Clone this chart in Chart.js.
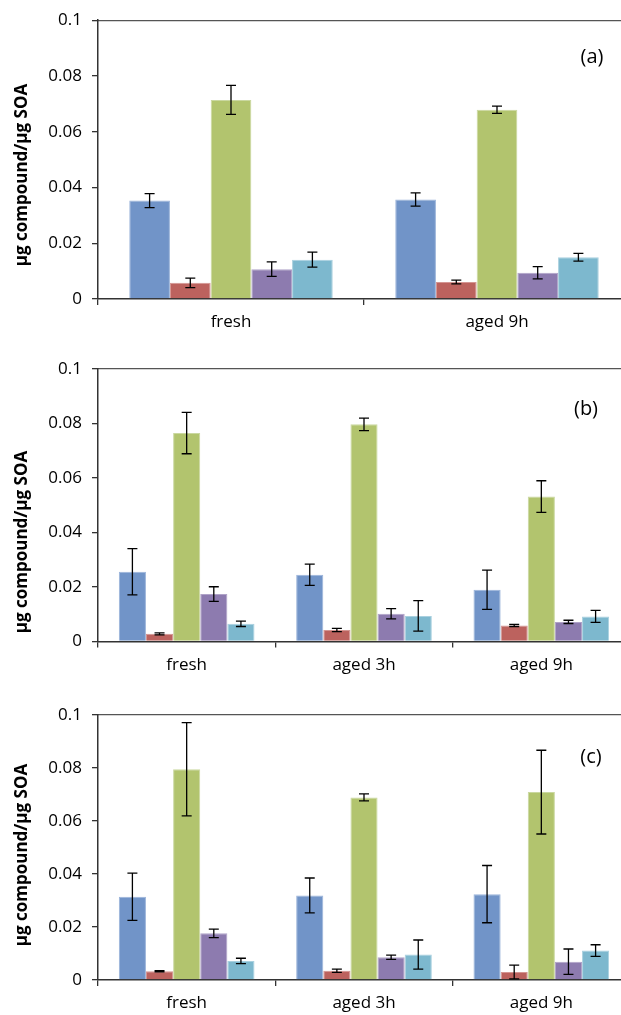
<!DOCTYPE html>
<html>
<head>
<meta charset="utf-8">
<script src="https://cdn.jsdelivr.net/npm/chart.js@4.4.1/dist/chart.umd.min.js"></script>
<style>
  html, body { margin: 0; padding: 0; background: #fff; overflow: hidden; }
  #page { position: relative; width: 621px; height: 1015px; overflow: hidden; }
  canvas { position: absolute; left: 0; }
  .ytitle {
    position: absolute; font-family: "Open Sans", sans-serif; font-weight: bold;
    font-size: 17px; color: #000; white-space: nowrap;
    transform: translate(-50%, -50%) rotate(-90deg);
  }
  .tag { position: absolute; font-family: "Open Sans", sans-serif; font-size: 20px;
    color: #000; transform: translate(-50%, -50%); }
</style>
</head>
<body>
<div id="page">
  <canvas id="cA" width="630" height="340" style="top:0px"></canvas>
  <canvas id="cB" width="630" height="340" style="top:340px"></canvas>
  <canvas id="cC" width="630" height="335" style="top:680px"></canvas>
  <div class="ytitle" style="left:20px; top:175px">µg compound/µg SOA</div>
  <div class="ytitle" style="left:20px; top:542px">µg compound/µg SOA</div>
  <div class="ytitle" style="left:20px; top:855px">µg compound/µg SOA</div>
  <div class="tag" style="left:592px; top:55px">(a)</div>
  <div class="tag" style="left:586px; top:407px">(b)</div>
  <div class="tag" style="left:591px; top:755px">(c)</div>
</div>
<script>
// colores de las series (estilo Excel 2007)
const colores = ['#7194c8', '#bc625e', '#b2c46e', '#8d7baf', '#7db8ce'];
const bordes  = ['#9bb4da', '#d49592', '#cad8a0', '#b0a3c8', '#a9d0df'];
const yTicks = [0, 0.02, 0.04, 0.06, 0.08, 0.1];

// (a)
const catA = ['fresh', 'aged 9h'];
const a1 = [0.0353, 0.0357], a1e = [0.0025, 0.0024];
const a2 = [0.0058, 0.0061], a2e = [0.0017, 0.0007];
const a3 = [0.0714, 0.0679], a3e = [0.0052, 0.0013];
const a4 = [0.0107, 0.0094], a4e = [0.0026, 0.0022];
const a5 = [0.0141, 0.0150], a5e = [0.0027, 0.0014];

// (b)
const catB = ['fresh', 'aged 3h', 'aged 9h'];
const b1 = [0.0256, 0.0245, 0.0190], b1e = [0.0085, 0.0039, 0.0072];
const b2 = [0.0028, 0.0042, 0.0059], b2e = [0.0004, 0.0006, 0.0004];
const b3 = [0.0765, 0.0797, 0.0532], b3e = [0.0076, 0.0023, 0.0058];
const b4 = [0.0174, 0.0102, 0.0072], b4e = [0.0027, 0.0019, 0.0006];
const b5 = [0.0065, 0.0094, 0.0092], b5e = [0.0010, 0.0056, 0.0022];

// (c)
const catC = ['fresh', 'aged 3h', 'aged 9h'];
const c1 = [0.0314, 0.0319, 0.0324], c1e = [0.0089, 0.0066, 0.0108];
const c2 = [0.0033, 0.0035, 0.0030], c2e = [0.0002, 0.0006, 0.0026];
const c3 = [0.0795, 0.0689, 0.0709], c3e = [0.0176, 0.0013, 0.0158];
const c4 = [0.0176, 0.0086, 0.0069], c4e = [0.0016, 0.0008, 0.0048];
const c5 = [0.0072, 0.0096, 0.0111], c5e = [0.0010, 0.0055, 0.0022];

// barras de error: se dibujan con las escalas del propio gráfico
const errorBars = {
  id: 'errorBars',
  afterDatasetsDraw(chart){
    const ctx = chart.ctx;
    const y = chart.scales.y;
    ctx.save();
    ctx.strokeStyle = '#000';
    ctx.lineWidth = 1.3;
    chart.data.datasets.forEach((ds, i) => {
      const meta = chart.getDatasetMeta(i);
      meta.data.forEach((bar, j) => {
        const v = ds.data[j], e = ds.err[j];
        const yt = y.getPixelForValue(v + e);
        const yb = y.getPixelForValue(v - e);
        ctx.beginPath();
        ctx.moveTo(bar.x, yt); ctx.lineTo(bar.x, yb);
        ctx.moveTo(bar.x - 5, yt); ctx.lineTo(bar.x + 5, yt);
        ctx.moveTo(bar.x - 5, yb); ctx.lineTo(bar.x + 5, yb);
        ctx.stroke();
      });
    });
    ctx.restore();
  }
};

function hacerPanel(id, cats, vals, errs, padTop, xAlto){
  const datasets = vals.map((v, i) => ({
    label: 'serie ' + (i + 1),
    data: v,
    err: errs[i],
    backgroundColor: colores[i],
    borderColor: bordes[i],
    borderWidth: 1,
    borderSkipped: 'bottom',
    categoryPercentage: 0.765,
    barPercentage: 1.0
  }));
  return new Chart(document.getElementById(id), {
    type: 'bar',
    data: { labels: cats, datasets: datasets },
    options: {
      responsive: false,
      animation: false,
      layout: { padding: { top: padTop, right: 0, left: 0, bottom: 0 } },
      plugins: { legend: { display: false }, tooltip: { enabled: false } },
      scales: {
        x: {
          grid: { display: true, drawOnChartArea: false, offset: true, tickLength: 6, color: '#333', lineWidth: 1.3 },
          border: { color: '#333', width: 1.5 },
          ticks: { color: '#000', padding: 7, font: { family: 'Open Sans', size: 17 } },
          afterFit(s){ s.height = xAlto; }
        },
        x2: {
          position: 'top',
          grid: { display: false },
          ticks: { display: false },
          border: { display: true, color: '#555', width: 1.3 },
          afterFit(s){ s.height = 0; }
        },
        y: {
          min: 0, max: 0.1,
          afterBuildTicks(s){ s.ticks = yTicks.map(v => ({ value: v })); },
          grid: { display: true, drawOnChartArea: false, tickLength: 6, color: '#333', lineWidth: 1.3 },
          border: { color: '#333', width: 1.5 },
          ticks: {
            color: '#000', padding: 10, font: { family: 'Open Sans', size: 17 },
            callback: v => String(Number(v.toFixed(2)))
          },
          afterFit(s){ s.width = 98; }
        }
      }
    },
    plugins: [errorBars]
  });
}

hacerPanel('cA', catA, [a1, a2, a3, a4, a5], [a1e, a2e, a3e, a4e, a5e], 19, 41);
hacerPanel('cB', catB, [b1, b2, b3, b4, b5], [b1e, b2e, b3e, b4e, b5e], 29, 38.5);
hacerPanel('cC', catC, [c1, c2, c3, c4, c5], [c1e, c2e, c3e, c4e, c5e], 35, 35);
</script>
</body>
</html>
